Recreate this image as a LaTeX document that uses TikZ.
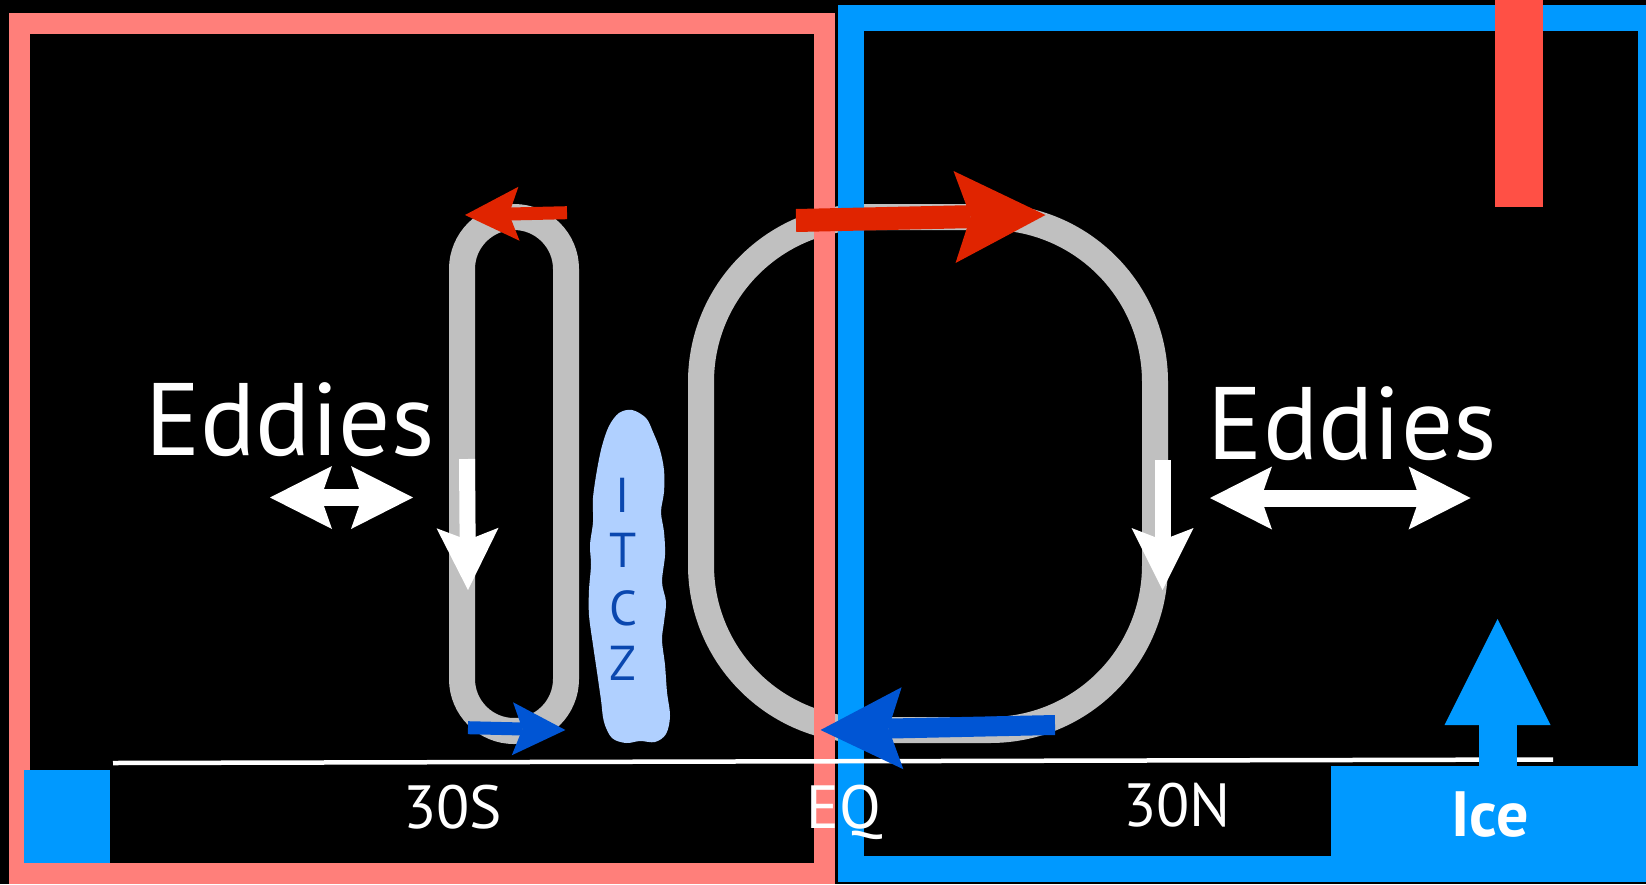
\documentclass[tikz,border=0pt]{standalone}
\usepackage{fontspec}
\setmainfont{PT Sans}
\usetikzlibrary{arrows.meta}

\definecolor{warmframe}{HTML}{FF7F7A}
\definecolor{coldframe}{HTML}{0099FF}
\definecolor{heatbar}{HTML}{FF5045}
\definecolor{upperred}{HTML}{E02400}
\definecolor{lowerblue}{HTML}{0055D4}
\definecolor{cellgrey}{HTML}{C0C0C0}
\definecolor{cloudblue}{HTML}{B0D0FF}
\definecolor{itczblue}{HTML}{0A47AF}

\newcommand\eddyfont{\fontsize{103}{103}\selectfont}
\newcommand\latfont{\fontsize{61}{61}\selectfont}
\newcommand\icefont{\fontsize{64}{64}\selectfont\bfseries}
\newcommand\itczfont{\fontsize{49}{49}\selectfont}

\tikzset{
  cellpath/.style={draw=cellgrey, line width=26pt},
  label/.style={text=white, inner sep=0pt, anchor=base},
  itczletter/.style={text=itczblue, inner sep=0pt, anchor=base, font=\itczfont},
  smallred/.style={draw=upperred, line width=13pt,
    -{Stealth[length=54pt,width=54pt,inset=10pt,line width=0pt]}},
  bigred/.style={draw=upperred, line width=23pt,
    -{Stealth[length=91pt,width=92pt,inset=16pt,line width=0pt]}},
  smallblue/.style={draw=lowerblue, line width=13pt,
    -{Stealth[length=53pt,width=53pt,inset=10pt,line width=0pt]}},
  bigblue/.style={draw=lowerblue, line width=20pt,
    -{Stealth[length=82pt,width=82pt,inset=14pt,line width=0pt]}},
  downflow/.style={draw=white, line width=16pt,
    -{Stealth[length=62pt,width=62pt,inset=12pt,line width=0pt]}},
  eddyflux/.style={draw=white, line width=17pt,
    {Stealth[length=62pt,width=63pt,inset=11pt,line width=0pt]}-{Stealth[length=62pt,width=63pt,inset=11pt,line width=0pt]}},
  iceflux/.style={draw=coldframe, line width=38pt,
    -{Triangle[length=106pt,width=106pt,line width=0pt]}},
}

\begin{document}
\begin{tikzpicture}[x=1pt,y=-1pt]
  % canvas
  \useasboundingbox (0,0) rectangle (1646,884);
  \fill[black] (0,0) rectangle (1646,884);

  % overturning cells
  \draw[cellpath, rounded corners=52pt] (462,217) rectangle (566,731);
  \draw[cellpath, rounded corners=165pt] (701,217) rectangle (1155,730);

  % hemisphere boxes
  \draw[warmframe, line width=21pt] (19.2,23.3) rectangle (824.5,873.5);
  \draw[coldframe, line width=26pt] (851,18) rectangle (1651,869);

  % small ice patch, northern ice sheet and heating bar
  \fill[coldframe] (24,770) rectangle (110,863);
  \fill[coldframe] (1331,766) rectangle (1646,869);
  \fill[heatbar] (1495,0) rectangle (1543,207);

  % latitude axis
  \coordinate (axisW) at (113,763);
  \coordinate (axisE) at (1553,759.5);
  \draw[white, line width=4.5pt] (axisW) -- (axisE);

  % labels
  \node[label, font=\eddyfont] (eddyS) at (290,455) {Eddies};
  \node[label, font=\eddyfont] (eddyN) at (1352.5,459) {Eddies};
  \node[label, font=\latfont] (lat30S) at (452.6,828) {30S};
  \node[label, font=\latfont] (latEQ) at (844,828) {EQ};
  \node[label, font=\latfont] (lat30N) at (1177,826) {30N};
  \node[label, font=\icefont] (ice) at (1490,836) {Ice};

  % ITCZ cloud: a tall, gently lumpy column
  \fill[cloudblue] plot[smooth cycle, tension=0.55] coordinates {
    (632,410) (646,418) (653,432) (660,450) (664,470) (664,492)
    (661,512) (664,532) (665,555) (662,582) (666,602) (664,622)
    (662,640) (665,665) (667,692) (670,716) (666,734) (655,742)
    (640,741) (626,743) (612,738) (604,722) (601,700) (597,672)
    (593,645) (589,615) (589,590) (591,565) (590,545) (593,522)
    (593,498) (597,470) (602,446) (609,426) (619,413)};
  \node[itczletter] (itczI) at (623,512) {I};
  \node[itczletter] (itczT) at (623,567) {T};
  \node[itczletter] (itczC) at (623,625) {C};
  \node[itczletter] (itczZ) at (623,680) {Z};

  % flow arrows
  \coordinate (sUpperStart) at (567,212.7);
  \coordinate (sUpperTip) at (465,215);
  \draw[smallred] (sUpperStart) -- (sUpperTip);

  \coordinate (nUpperStart) at (796,220.5);
  \coordinate (nUpperTip) at (1045.5,215);
  \draw[bigred] (nUpperStart) -- (nUpperTip);

  \coordinate (sLowerStart) at (468,727.7);
  \coordinate (sLowerTip) at (565.4,730);
  \draw[smallblue] (sLowerStart) -- (sLowerTip);

  \coordinate (nLowerStart) at (1055,725);
  \coordinate (nLowerTip) at (820.5,730);
  \draw[bigblue] (nLowerStart) -- (nLowerTip);

  \coordinate (sDownTop) at (467,459);
  \coordinate (sDownTip) at (468,590);
  \draw[downflow] (sDownTop) -- (sDownTip);

  \coordinate (nDownTop) at (1162.5,460);
  \coordinate (nDownTip) at (1162.5,590);
  \draw[downflow] (nDownTop) -- (nDownTip);

  \coordinate (sEddyW) at (270,497.5);
  \coordinate (sEddyE) at (413,497.5);
  \draw[eddyflux] (sEddyW) -- (sEddyE);

  \coordinate (nEddyW) at (1210,498);
  \coordinate (nEddyE) at (1470.6,498);
  \draw[eddyflux] (nEddyW) -- (nEddyE);

  \coordinate (iceBase) at (1497.5,780);
  \coordinate (iceTip) at (1497.5,619);
  \draw[iceflux] (iceBase) -- (iceTip);
\end{tikzpicture}
\end{document}
